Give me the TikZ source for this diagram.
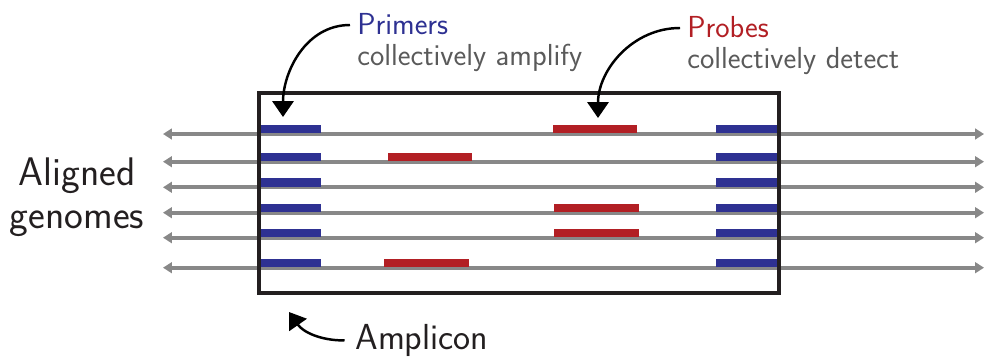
\documentclass[tikz,border=0pt]{standalone}
\usetikzlibrary{arrows.meta}
\renewcommand{\familydefault}{\sfdefault}

\definecolor{primerblue}{RGB}{46,49,146}
\definecolor{probered}{RGB}{178,31,36}
\definecolor{genomegray}{RGB}{136,136,136}
\definecolor{notegray}{RGB}{90,90,90}
\definecolor{boxblack}{RGB}{35,31,32}

\tikzset{
  genome/.style={draw=genomegray, line width=2.2pt,
    {Triangle[width=6pt,length=5pt]}-{Triangle[width=6pt,length=5pt]}},
  primer/.style={fill=primerblue},
  probe/.style={fill=probered},
  pointer/.style={draw=black, line width=1.4pt, -{Triangle[width=12pt,length=9pt]}},
  label/.style={anchor=north west, align=left, inner ysep=0pt, inner xsep=4pt,
    text=notegray, font=\fontsize{17.3}{17.4}\selectfont},
}

\begin{document}
\begin{tikzpicture}
\useasboundingbox (0,0) rectangle (19.7,7.12);

% genome ends
\coordinate (g1w) at (3.26,4.44);  \coordinate (g1e) at (19.68,4.44);
\coordinate (g2w) at (3.26,3.886); \coordinate (g2e) at (19.68,3.886);
\coordinate (g3w) at (3.26,3.374); \coordinate (g3e) at (19.68,3.374);
\coordinate (g4w) at (3.26,2.866); \coordinate (g4e) at (19.68,2.866);
\coordinate (g5w) at (3.26,2.366); \coordinate (g5e) at (19.68,2.366);
\coordinate (g6w) at (3.26,1.766); \coordinate (g6e) at (19.68,1.766);

\draw[genome] (g1w) -- (g1e);
\draw[genome] (g2w) -- (g2e);
\draw[genome] (g3w) -- (g3e);
\draw[genome] (g4w) -- (g4e);
\draw[genome] (g5w) -- (g5e);
\draw[genome] (g6w) -- (g6e);

% primers, both ends
\fill[primer] (5.2,4.454)  rectangle (6.42,4.62);
\fill[primer] (5.2,3.900)  rectangle (6.42,4.066);
\fill[primer] (5.2,3.388)  rectangle (6.42,3.554);
\fill[primer] (5.2,2.880)  rectangle (6.42,3.046);
\fill[primer] (5.2,2.380)  rectangle (6.42,2.546);
\fill[primer] (5.2,1.780)  rectangle (6.42,1.946);

\fill[primer] (14.32,4.454) rectangle (15.54,4.62);
\fill[primer] (14.32,3.900) rectangle (15.54,4.066);
\fill[primer] (14.32,3.388) rectangle (15.54,3.554);
\fill[primer] (14.32,2.880) rectangle (15.54,3.046);
\fill[primer] (14.32,2.380) rectangle (15.54,2.546);
\fill[primer] (14.32,1.780) rectangle (15.54,1.946);

% probes
\fill[probe] (11.06,4.454) rectangle (12.74,4.62);
\fill[probe] (7.76,3.900)  rectangle (9.44,4.066);
\fill[probe] (11.08,2.880) rectangle (12.78,3.046);
\fill[probe] (11.08,2.380) rectangle (12.78,2.546);
\fill[probe] (7.68,1.780)  rectangle (9.38,1.946);

% amplicon
\draw[boxblack, line width=2.2pt] (5.18,1.26) rectangle (15.58,5.26);

% labels
\node[label] (primers) at (7.0,6.85)
  {\textcolor{primerblue}{Primers}\\collectively amplify};
\node[label] (probes) at (13.6,6.79)
  {\textcolor{probered}{Probes}\\collectively detect};
\node[align=center, inner sep=0pt, text=boxblack,
  font=\fontsize{22.7}{24.4}\selectfont] (aligned) at (1.54,3.18) {Aligned\\genomes};
\node[anchor=base west, inner sep=0pt, inner xsep=6pt, text=boxblack,
  font=\fontsize{20.6}{24}\selectfont] (amplicon) at (6.89,0.13) {Amplicon};

\coordinate (primertip) at (5.66,4.78);
\coordinate (probetip) at (11.96,4.76);
\coordinate (amplicontip) at (5.78,0.88);

\draw[pointer] ([yshift=-0.23cm]primers.north west) to[out=180,in=90] (primertip);
\draw[pointer] ([yshift=-0.23cm]probes.north west) to[out=180,in=90] (probetip);
\draw[pointer] (amplicon.west) to[out=180,in=-55] (amplicontip);
\end{tikzpicture}
\end{document}
